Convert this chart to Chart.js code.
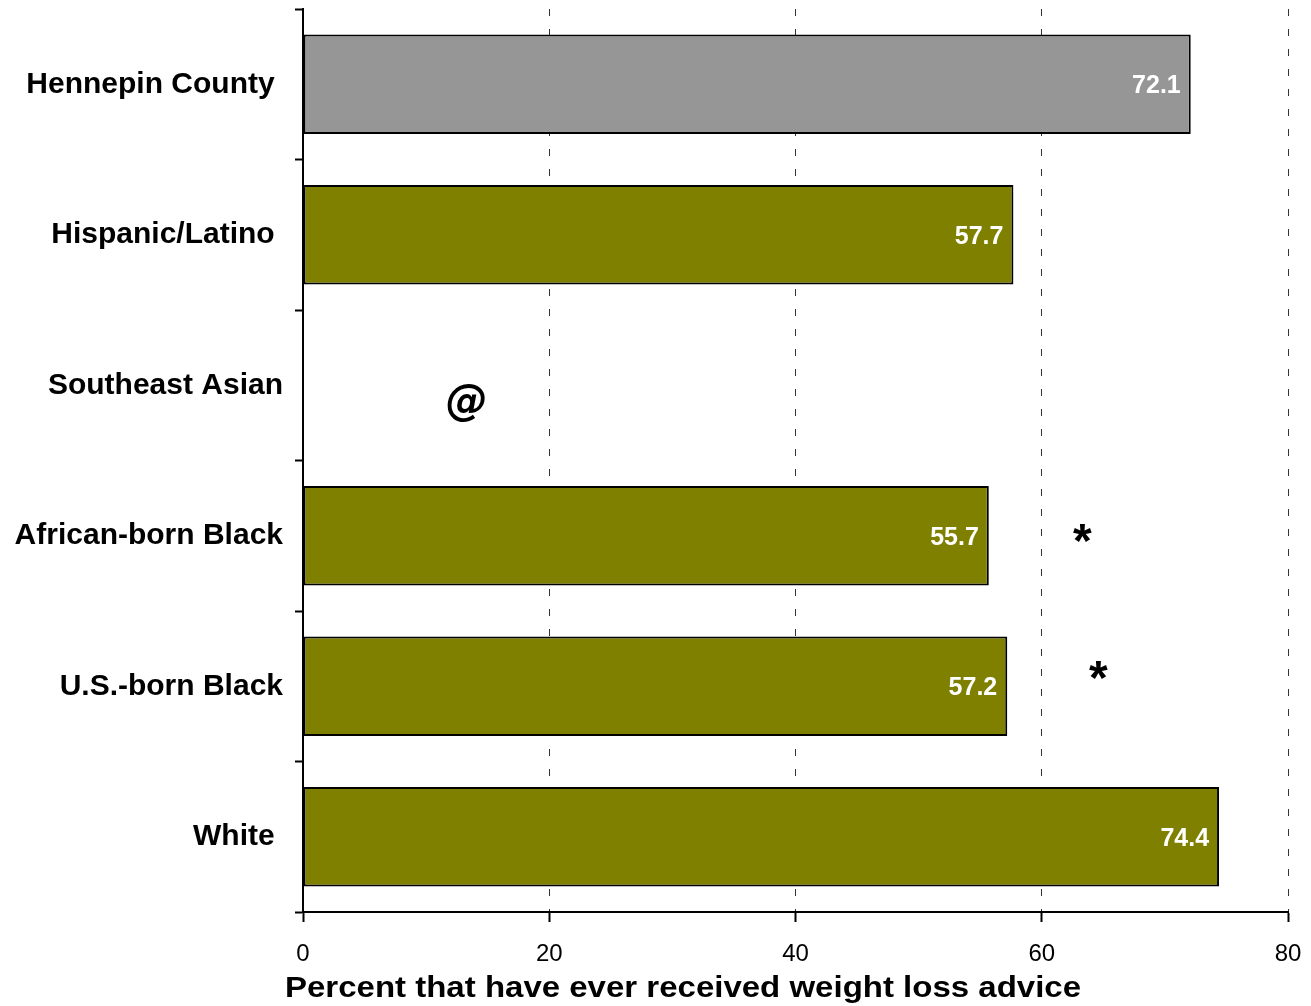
<!DOCTYPE html>
<html>
<head>
<meta charset="utf-8">
<script src="https://cdn.jsdelivr.net/npm/chart.js@4.4.0/dist/chart.umd.min.js"></script>
<style>
  html, body { margin: 0; padding: 0; background: #fff; }
  #wrap { width: 1311px; height: 1006px; position: relative; }
</style>
</head>
<body>
<div id="wrap"><canvas id="c" width="1311" height="1006"></canvas></div>
<script>
// ---- data ----
const categories = ['Hennepin County ', 'Hispanic/Latino ', 'Southeast Asian', 'African-born Black', 'U.S.-born Black', 'White '];
const values = [72.1, 57.7, null, 55.7, 57.2, 74.4];
const xTickValues = [0, 20, 40, 60, 80];
const axisTitle = 'Percent that have ever received weight loss advice';
const noteTexts = ['@', '*', '*'];
const noteValues = [13.3, 63.3, 64.6];
const noteCategories = [2, 3, 4];

// ---- styles ----
const barColors = ['#969696', '#808000', '#808000', '#808000', '#808000', '#808000'];
const FONT = '"Liberation Sans", Arial, sans-serif';
const noteFonts = ['italic bold 42px "DejaVu Sans", sans-serif', 'bold 48px ' + FONT, 'bold 48px ' + FONT];
const noteShift = [0.125, 0.055, -0.035];

const labelPlugin = {
  id: 'barLabels',
  afterDatasetsDraw(chart) {
    const ctx = chart.ctx;
    const meta = chart.getDatasetMeta(0);
    ctx.save();
    ctx.font = 'bold 25px ' + FONT;
    ctx.fillStyle = '#ffffff';
    ctx.textAlign = 'right';
    ctx.textBaseline = 'middle';
    meta.data.forEach((bar, i) => {
      if (values[i] === null) return;
      ctx.fillText(String(values[i]), bar.x - 10, bar.y + 2);
    });
    // notes
    const xs = chart.scales.x, ys = chart.scales.y;
    ctx.fillStyle = '#000';
    ctx.textAlign = 'center';
    noteTexts.forEach((t, i) => {
      ctx.font = noteFonts[i];
      ctx.fillText(t, xs.getPixelForValue(noteValues[i]), ys.getPixelForValue(noteCategories[i] + noteShift[i]));
    });
    // axis title (slightly widened, as in the original)
    ctx.font = 'bold 30px ' + FONT;
    ctx.textAlign = 'left';
    ctx.textBaseline = 'middle';
    ctx.translate(chart.chartArea.left - 18, chart.chartArea.bottom + 77);
    ctx.scale(1.1, 1);
    ctx.fillText(axisTitle, 0, 0);
    ctx.restore();
  }
};

new Chart(document.getElementById('c'), {
  type: 'bar',
  data: {
    labels: categories,
    datasets: [{
      data: values,
      backgroundColor: barColors,
      borderColor: '#000',
      borderWidth: 2,
      borderSkipped: false,
      barPercentage: 0.66,
      categoryPercentage: 1.0
    }]
  },
  options: {
    indexAxis: 'y',
    responsive: false,
    animation: false,
    devicePixelRatio: 1,
    layout: { padding: { top: 9, right: 23, left: 0, bottom: 0 } },
    plugins: { legend: { display: false }, tooltip: { enabled: false }, title: { display: false } },
    scales: {
      x: {
        type: 'linear',
        min: 0, max: 80,
        afterBuildTicks(scale) { scale.ticks = xTickValues.map(v => ({ value: v })); },
        afterFit(scale) { scale.height = 94; scale.paddingLeft = 0; scale.paddingRight = 0; },
        ticks: { font: { family: FONT, size: 24 }, color: '#000', padding: 18 },
        grid: {
          color: '#333', lineWidth: 1, drawTicks: true, tickLength: 10,
          tickColor: '#000', tickWidth: 2
        },
        border: { display: true, color: '#000', width: 2, dash: [7, 13] }
      },
      y: {
        afterFit(scale) { scale.width = 303; scale.paddingTop = 0; scale.paddingBottom = 0; },
        ticks: { font: { family: FONT, size: 30, weight: 'bold' }, color: '#000', padding: 12 },
        grid: { drawOnChartArea: false, drawTicks: true, tickLength: 8, tickColor: '#000', tickWidth: 2, offset: true },
        border: { display: true, color: '#000', width: 2 }
      }
    }
  },
  plugins: [labelPlugin]
});
</script>
</body>
</html>
